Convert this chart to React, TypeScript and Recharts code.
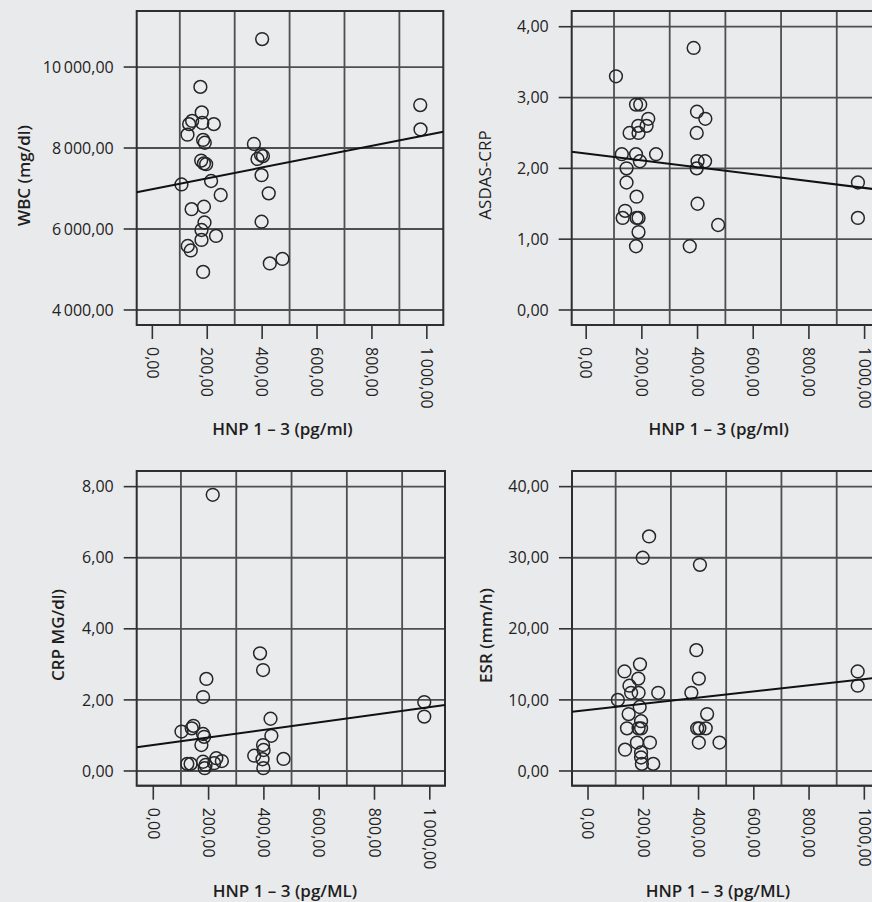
import { ScatterChart, Scatter, XAxis, YAxis, CartesianGrid, ReferenceArea } from "recharts";

// x axis (HNP 1-3) shared by all four panels
const hnpTicks = [0, 200, 400, 600, 800, 1000];
const hnpLabels = ["0,00", "200,00", "400,00", "600,00", "800,00", "1\u2009000,00"];
const hnpLabelsEsr = ["0,00", "200,00", "400,00", "600,00", "800,00", "1000,00"];
const hnpGrid = [100, 300, 500, 700, 900];

// WBC
const wbcTicks = [4000, 6000, 8000, 10000];
const wbcLabels = ["4\u2009000,00", "6\u2009000,00", "8\u2009000,00", "10\u2009000,00"];
const wbcHnp = [400, 175, 180, 145, 134, 182, 224, 128, 185, 191, 178, 188, 196, 106, 214, 249, 143, 188, 190, 179, 232, 179, 129, 140, 185, 370, 396, 383, 403, 398, 424, 398, 428, 474, 976, 977];
const wbcValues = [10690, 9510, 8880, 8670, 8590, 8620, 8590, 8330, 8200, 8130, 7690, 7620, 7600, 7100, 7185, 6840, 6490, 6550, 6160, 5975, 5830, 5730, 5580, 5470, 4940, 8100, 7830, 7730, 7800, 7330, 6880, 6180, 5150, 5260, 9060, 8460];
const wbcFitHnp = [-57, 1060];
const wbcFit = [6910, 8400];

// ASDAS-CRP
const asdasTicks = [0, 1, 2, 3, 4];
const asdasLabels = ["0,00", "1,00", "2,00", "3,00", "4,00"];
const asdasHnp = [107, 386, 179, 194, 223, 187, 217, 156, 188, 128, 179, 251, 193, 145, 145, 181, 140, 131, 181, 188, 188, 179, 398, 428, 397, 400, 427, 397, 400, 474, 372, 976, 976];
const asdasValues = [3.3, 3.7, 2.9, 2.9, 2.7, 2.6, 2.6, 2.5, 2.5, 2.2, 2.2, 2.2, 2.1, 2.0, 1.8, 1.6, 1.4, 1.3, 1.3, 1.3, 1.1, 0.9, 2.8, 2.7, 2.5, 2.1, 2.1, 2.0, 1.5, 1.2, 0.9, 1.8, 1.3];
const asdasFitHnp = [-52, 1060];
const asdasFit = [2.234, 1.694];

// CRP
const crpTicks = [0, 2, 4, 6, 8];
const crpLabels = ["0,00", "2,00", "4,00", "6,00", "8,00"];
const crpHnp = [215, 192, 180, 102, 145, 139, 180, 184, 174, 123, 135, 180, 186, 189, 220, 228, 248, 386, 397, 424, 427, 397, 399, 365, 395, 398, 471, 980, 980];
const crpValues = [7.77, 2.59, 2.08, 1.11, 1.27, 1.2, 1.04, 0.96, 0.73, 0.2, 0.2, 0.26, 0.08, 0.17, 0.22, 0.36, 0.28, 3.31, 2.84, 1.47, 0.99, 0.73, 0.59, 0.43, 0.33, 0.08, 0.34, 1.94, 1.53];
const crpFitHnp = [-60, 1055];
const crpFit = [0.667, 1.857];

// ESR
const esrTicks = [0, 10, 20, 30, 40];
const esrLabels = ["0,00", "10,00", "20,00", "30,00", "40,00"];
const esrHnp = [221, 198, 405, 392, 401, 374, 431, 395, 403, 426, 401, 476, 132, 188, 182, 150, 156, 183, 254, 108, 187, 147, 192, 141, 183, 192, 177, 224, 134, 192, 192, 195, 236, 976, 976];
const esrValues = [33, 30, 29, 17, 13, 11, 8, 6, 6, 6, 4, 4, 14, 15, 13, 12, 11, 11, 11, 10, 9, 8, 7, 6, 6, 6, 4, 4, 3, 2.6, 1.9, 1, 1, 14, 12];
const esrFitHnp = [-58, 1060];
const esrFit = [8.34, 13.17];

const FONT = "'Open Sans', 'Noto Sans', sans-serif";
const BG = "#e9eaec";

const toPoints = (xs: number[], ys: number[]) => xs.map((x, i) => ({ x, y: ys[i] }));

function Ring(p: any) {
  if (p.cx == null || p.cy == null) return <g />;
  return <circle cx={p.cx} cy={p.cy} r={6.4} fill="none" stroke="#262626" strokeWidth={1.5} />;
}

interface PanelProps {
  left: number;
  top: number;
  width: number;
  height: number;
  box: { l: number; t: number; r: number; b: number };
  xDomain: [number, number];
  yDomain: [number, number];
  xLabels: string[];
  yTicks: number[];
  yLabels: string[];
  hnp: number[];
  values: number[];
  fitHnp: number[];
  fit: number[];
}

function Panel(props: PanelProps) {
  const { left, top, width, height, box, xDomain, yDomain, xLabels, yTicks, yLabels } = props;
  const yAxisWidth = box.l - left;
  const marginRight = left + width - box.r;
  const bottomSpace = top + height - box.b;

  const XTick = ({ x, y, payload }: any) => {
    const idx = hnpTicks.indexOf(payload.value);
    return (
      <text
        x={x}
        y={y}
        transform={`rotate(90 ${x} ${y})`}
        dy="0.36em"
        textAnchor="start"
        fill="#222"
        fontSize={16}
        fontFamily={FONT}
      >
        {xLabels[idx]}
      </text>
    );
  };

  return (
    <div style={{ position: "absolute", left, top, width, height }}>
      <ScatterChart
        width={width}
        height={height}
        margin={{ top: box.t - top, right: marginRight, bottom: 5, left: 0 }}
      >
        <CartesianGrid
          stroke="#4f4f4f"
          strokeWidth={1.8}
          fill="#eaebed"
          verticalValues={hnpGrid}
        />
        <XAxis
          type="number"
          dataKey="x"
          domain={xDomain}
          ticks={hnpTicks}
          interval={0}
          allowDataOverflow
          height={bottomSpace - 5}
          axisLine={false}
          tickSize={14}
          tickMargin={8}
          tickLine={{ stroke: "#333", strokeWidth: 1.6 }}
          tick={XTick}
        />
        <YAxis
          type="number"
          dataKey="y"
          domain={yDomain}
          ticks={yTicks}
          interval={0}
          allowDataOverflow
          width={yAxisWidth}
          axisLine={false}
          tickSize={13}
          tickMargin={10}
          tickLine={{ stroke: "#333", strokeWidth: 1.6 }}
          tick={{ fill: "#222", fontSize: 16, fontFamily: FONT }}
          tickFormatter={(v: number) => yLabels[yTicks.indexOf(v)]}
        />
        <ReferenceArea
          x1={xDomain[0]}
          x2={xDomain[1]}
          y1={yDomain[0]}
          y2={yDomain[1]}
          fill="none"
          stroke="#2e2e2e"
          strokeWidth={2}
          ifOverflow="visible"
        />
        <Scatter
          data={toPoints(props.hnp, props.values)}
          shape={Ring}
          isAnimationActive={false}
        />
        <Scatter
          data={toPoints(props.fitHnp, props.fit)}
          shape={() => <g />}
          line={{ stroke: "#111", strokeWidth: 2 }}
          lineType="joint"
          isAnimationActive={false}
        />
      </ScatterChart>
    </div>
  );
}

export default function App() {
  const title = { fontFamily: FONT, fontSize: 17, fontWeight: 600, fill: "#1e1e1e" } as const;
  return (
    <div
      style={{
        position: "absolute",
        left: 0,
        top: 0,
        width: 872,
        height: 902,
        overflow: "hidden",
        background: BG,
      }}
    >
      <Panel
        left={0}
        top={0}
        width={460}
        height={450}
        box={{ l: 136.7, t: 11, r: 443.3, b: 325 }}
        xDomain={[-57, 1060]}
        yDomain={[3629, 11384]}
        xLabels={hnpLabels}
        yTicks={wbcTicks}
        yLabels={wbcLabels}
        hnp={wbcHnp}
        values={wbcValues}
        fitHnp={wbcFitHnp}
        fit={wbcFit}
      />
      <Panel
        left={440}
        top={0}
        width={460}
        height={450}
        box={{ l: 571.7, t: 11, r: 881.3, b: 325 }}
        xDomain={[-52, 1060]}
        yDomain={[-0.212, 4.222]}
        xLabels={hnpLabels}
        yTicks={asdasTicks}
        yLabels={asdasLabels}
        hnp={asdasHnp}
        values={asdasValues}
        fitHnp={asdasFitHnp}
        fit={asdasFit}
      />
      <Panel
        left={0}
        top={460}
        width={460}
        height={442}
        box={{ l: 136.7, t: 471, r: 445, b: 785.7 }}
        xDomain={[-60, 1055]}
        yDomain={[-0.414, 8.44]}
        xLabels={hnpLabels}
        yTicks={crpTicks}
        yLabels={crpLabels}
        hnp={crpHnp}
        values={crpValues}
        fitHnp={crpFitHnp}
        fit={crpFit}
      />
      <Panel
        left={440}
        top={460}
        width={460}
        height={442}
        box={{ l: 572, t: 471, r: 880.9, b: 785.7 }}
        xDomain={[-58, 1060]}
        yDomain={[-2.07, 42.2]}
        xLabels={hnpLabelsEsr}
        yTicks={esrTicks}
        yLabels={esrLabels}
        hnp={esrHnp}
        values={esrValues}
        fitHnp={esrFitHnp}
        fit={esrFit}
      />
      {/* axis titles */}
      <svg
        width={872}
        height={902}
        style={{ position: "absolute", left: 0, top: 0, pointerEvents: "none" }}
      >
        <text x={282.5} y={435} textAnchor="middle" {...title}>HNP 1 – 3 (pg/ml)</text>
        <text x={718.7} y={435} textAnchor="middle" {...title}>HNP 1 – 3 (pg/ml)</text>
        <text x={285} y={896.5} textAnchor="middle" {...title}>HNP 1 – 3 (pg/ML)</text>
        <text x={718} y={896.5} textAnchor="middle" {...title}>HNP 1 – 3 (pg/ML)</text>
        <text transform="translate(30 175.5) rotate(-90)" textAnchor="middle" {...title}>WBC (mg/dl)</text>
        <text transform="translate(491 175) rotate(-90)" textAnchor="middle" {...title} fontWeight={500}>ASDAS-CRP</text>
        <text transform="translate(64 635) rotate(-90)" textAnchor="middle" {...title}>CRP MG/dl)</text>
        <text transform="translate(491.5 635.5) rotate(-90)" textAnchor="middle" {...title}>ESR (mm/h)</text>
      </svg>
    </div>
  );
}
